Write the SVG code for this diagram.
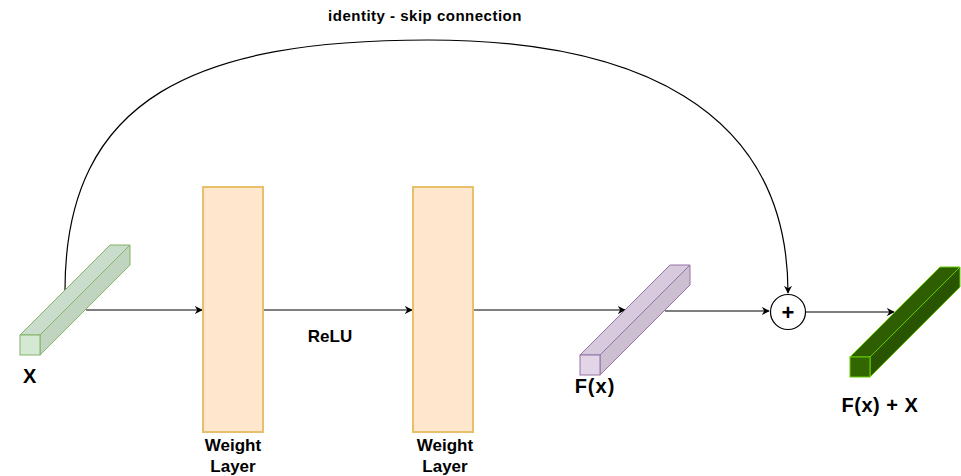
<svg xmlns="http://www.w3.org/2000/svg" width="961" height="476" viewBox="0 0 961 476">
<defs>
<marker id="arr" viewBox="0 0 10 10" refX="9" refY="5" markerWidth="8" markerHeight="8" markerUnits="userSpaceOnUse" orient="auto">
<path d="M0,0 L10,5 L0,10 L3,5 Z" fill="#000"/>
</marker>
</defs>
<style>
text{font-family:"Liberation Sans",Arial,sans-serif;font-weight:bold;fill:#000;text-anchor:middle}
.edge{fill:none;stroke:#000;stroke-width:1.2;marker-end:url(#arr)}
.wl{fill:#ffe6cc;stroke:#e6c06a;stroke-width:2}
.lbl{font-size:17px}
.big{font-size:20px;letter-spacing:0.5px}
</style>
<rect width="961" height="476" fill="#fff"/>
<g id="connectors">
<path class="edge" d="M65,290 C65,95 200,40 428,40 C630,40 788,105 788,293"/>
<path class="edge" d="M86,310 L202,310"/>
<path class="edge" d="M264,310 L412,310"/>
<path class="edge" d="M474,310 L625,310"/>
<path class="edge" d="M665,311 L769,311"/>
<path class="edge" d="M806,312 L894,312"/>
</g>
<g id="x-tensor">
<path d="M20,335 L110,245 L130,245 L40,335 Z" fill="#cadccb" stroke="#82b366"/>
<path d="M40,335 L130,245 L130,265 L40,355 Z" fill="#c0d4bf" stroke="#82b366"/>
<rect x="20" y="335" width="20" height="20" fill="#d5e8d4" stroke="#82b366"/>
<text class="big" x="30" y="383">X</text>
</g>
<g id="weight1">
<rect class="wl" x="203" y="187" width="60" height="245"/>
<text class="lbl" x="233" y="451">Weight</text>
<text class="lbl" x="233" y="472">Layer</text>
</g>
<g id="relu">
<text class="lbl" x="330" y="342">ReLU</text>
</g>
<g id="weight2">
<rect class="wl" x="413" y="187" width="60" height="245"/>
<text class="lbl" x="445" y="451">Weight</text>
<text class="lbl" x="445" y="472">Layer</text>
</g>
<g id="fx-tensor">
<path d="M580,355 L670,265 L690,265 L600,355 Z" fill="#d7cadd" stroke="#9673a6"/>
<path d="M600,355 L690,265 L690,285 L600,375 Z" fill="#ccbfd1" stroke="#9673a6"/>
<rect x="580" y="355" width="20" height="20" fill="#e1d5e7" stroke="#9673a6"/>
<text class="big" x="595" y="393" style="letter-spacing:1px">F(x)</text>
</g>
<g id="add">
<circle cx="788" cy="312" r="17.5" fill="#fff" stroke="#000" stroke-width="1.2"/>
<text x="788" y="320" style="font-size:22px">+</text>
</g>
<g id="out-tensor">
<path d="M850,357 L940,267 L960,267 L870,357 Z" fill="#2f5e00" stroke="#66cc00"/>
<path d="M870,357 L960,267 L960,287 L870,377 Z" fill="#2a5500" stroke="#66cc00"/>
<rect x="850" y="357" width="20" height="20" fill="#336600" stroke="#66cc00"/>
<text class="big" x="880" y="412">F(x) + X</text>
</g>
<g id="skip-label">
<text x="425" y="21" style="font-size:15px;letter-spacing:0.5px">identity - skip connection</text>
</g>
</svg>
